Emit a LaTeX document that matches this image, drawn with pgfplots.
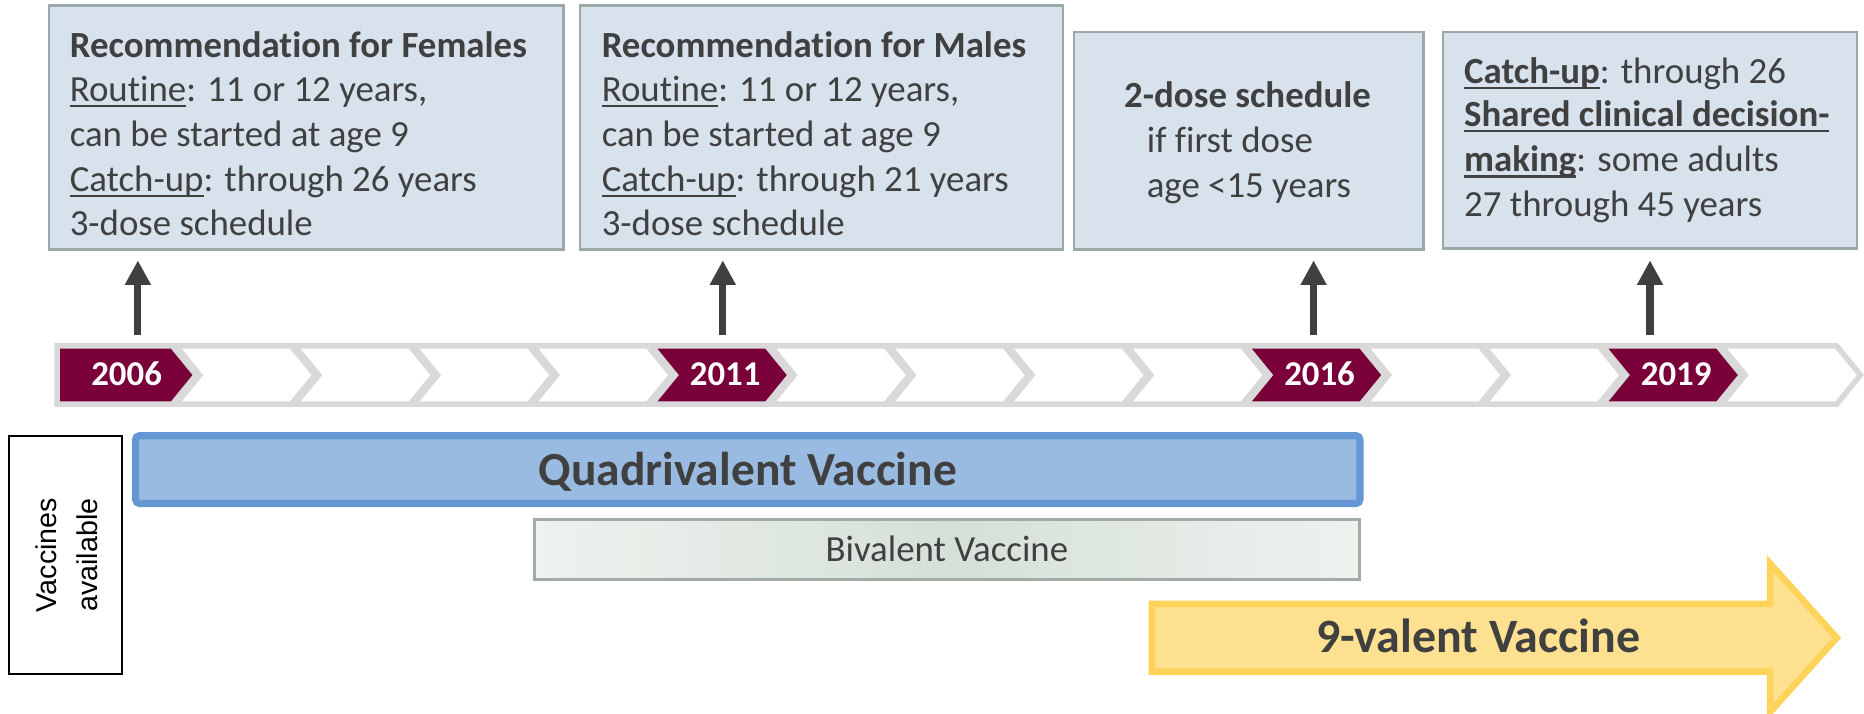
\documentclass[border=0pt]{standalone}
\usepackage{pgfplots}
\pgfplotsset{compat=1.18}
\usepackage{pgfplotstable}
\usepackage{fontspec}
\setmainfont{Carlito}[Ligatures=NoCommon]
\newfontfamily\arialf{Liberation Sans}
\usetikzlibrary{arrows.meta}
\definecolor{txt}{HTML}{404040}
\definecolor{boxfill}{HTML}{D7E2ED}
\definecolor{boxline}{HTML}{9BA9A8}
\definecolor{maroon}{HTML}{7A0039}
\definecolor{chevgray}{HTML}{D9D9D9}
\definecolor{quadfill}{HTML}{9ABBE1}
\definecolor{quadline}{HTML}{6497D3}
\definecolor{yfill}{HTML}{FDE191}
\definecolor{yline}{HTML}{FDD35A}
\definecolor{bivl}{HTML}{EFF2EF}
\definecolor{bivm}{HTML}{D5E0D8}
\definecolor{bivline}{HTML}{A3ABA5}
\newcommand\ul[1]{\leavevmode\setbox0\hbox{#1}\rlap{\rule[-1.4pt]{\wd0}{0.5pt}}\box0}
\newcommand\bodyfont{\fontsize{9.0pt}{10.9pt}\selectfont}

% chevron shapes (relative x, absolute y in picture pixels)
\pgfplotstableread{
x y
0 291
97 291
117 315.5
97 340
0 340
20 315.5
}\chev
\pgfplotstableread{
x y
0 291
97 291
117 315.5
97 340
0 340
}\firstchev

\begin{document}
\begin{tikzpicture}
\begin{axis}[width=16cm, height=6.1224cm, scale only axis, hide axis,
  xmin=0, xmax=1568, ymin=0, ymax=600, y dir=reverse, no markers, clip=true]

% recommendation boxes
\addplot[draw=boxline, fill=boxfill, line width=0.6pt] coordinates {(41,4.5) (474,4.5) (474,210) (41,210)} -- cycle;
\addplot[draw=boxline, fill=boxfill, line width=0.6pt] coordinates {(488,4.5) (894,4.5) (894,210) (488,210)} -- cycle;
\addplot[draw=boxline, fill=boxfill, line width=0.6pt] coordinates {(903.5,27) (1197.5,27) (1197.5,210) (903.5,210)} -- cycle;
\addplot[draw=boxline, fill=boxfill, line width=0.6pt] coordinates {(1214,27) (1562,27) (1562,209) (1214,209)} -- cycle;

% arrows
\addplot[txt, line width=1.75pt, -{Triangle[length=6pt,width=6pt]}] coordinates {(116,282) (116,219)};
\addplot[txt, line width=1.75pt, -{Triangle[length=6pt,width=6pt]}] coordinates {(608,282) (608,219)};
\addplot[txt, line width=1.75pt, -{Triangle[length=6pt,width=6pt]}] coordinates {(1105,282) (1105,219)};
\addplot[txt, line width=1.75pt, -{Triangle[length=6pt,width=6pt]}] coordinates {(1388,282) (1388,219)};

% timeline chevrons 2006 ... 2020
\addplot[draw=chevgray, fill=maroon, line width=1.35pt] table[x expr=\thisrow{x}+48, y=y] {\firstchev} -- cycle;
\pgfplotsinvokeforeach{1,2,3,4,6,7,8,9,11,12,14}{
  \addplot[draw=chevgray, fill=white, line width=1.35pt] table[x expr=\thisrow{x}+48+100*#1, y=y] {\chev} -- cycle;
}
\pgfplotsinvokeforeach{5,10,13}{
  \addplot[draw=chevgray, fill=maroon, line width=1.35pt] table[x expr=\thisrow{x}+48+100*#1, y=y] {\chev} -- cycle;
}

% vaccines available box
\addplot[draw=black, fill=white, line width=0.6pt] coordinates {(7.6,366.7) (102.6,366.7) (102.6,567) (7.6,567)} -- cycle;

% quadrivalent bar
\addplot[draw=quadline, fill=quadfill, line width=1.75pt, rounded corners=1pt] coordinates {(114,366.5) (1144,366.5) (1144,423.5) (114,423.5)} -- cycle;

% bivalent bar
\addplot[draw=bivline, line width=0.6pt, left color=bivl, right color=bivl, middle color=bivm] coordinates {(449.5,437) (1143.5,437) (1143.5,487.5) (449.5,487.5)} -- cycle;

% 9-valent arrow
\addplot[draw=yline, fill=yfill, line width=1.6pt] coordinates {(969,508) (1489,508) (1489,474) (1545,536.5) (1489,599) (1489,565) (969,565)} -- cycle;

% texts
\begin{scope}[every node/.style={inner sep=0pt, text=txt, font=\bodyfont}]
\node[anchor=base west] at (axis cs:58,48) {\textbf{Recommendation for Females}};
\node[anchor=base west] at (axis cs:58,85.5) {\ul{Routine}: 11 or 12 years,};
\node[anchor=base west] at (axis cs:58,123.5) {can be started at age 9};
\node[anchor=base west] at (axis cs:58,161) {\ul{Catch-up}: through 26 years};
\node[anchor=base west] at (axis cs:58,198) {3-dose schedule};

\node[anchor=base west] at (axis cs:505.5,48) {\textbf{Recommendation for Males}};
\node[anchor=base west] at (axis cs:505.5,85.5) {\ul{Routine}: 11 or 12 years,};
\node[anchor=base west] at (axis cs:505.5,123.5) {can be started at age 9};
\node[anchor=base west] at (axis cs:505.5,161) {\ul{Catch-up}: through 21 years};
\node[anchor=base west] at (axis cs:505.5,198) {3-dose schedule};

\node[anchor=base west] at (axis cs:945,90) {\textbf{2-dose schedule}};
\node[anchor=base west] at (axis cs:964,128.5) {if first dose};
\node[anchor=base west] at (axis cs:964,166) {age <15 years};

\node[anchor=base west] at (axis cs:1231,70) {\ul{\textbf{Catch-up}}: through 26};
\node[anchor=base west] at (axis cs:1231,106.5) {\ul{\textbf{Shared clinical decision-}}};
\node[anchor=base west] at (axis cs:1231,144.5) {\ul{\textbf{making}}: some adults};
\node[anchor=base west] at (axis cs:1231,182) {27 through 45 years};

\node[anchor=base, text=white, font=\fontsize{8.5pt}{10pt}\selectfont\bfseries] at (axis cs:106.5,324) {2006};
\node[anchor=base, text=white, font=\fontsize{8.5pt}{10pt}\selectfont\bfseries] at (axis cs:610,324) {2011};
\node[anchor=base, text=white, font=\fontsize{8.5pt}{10pt}\selectfont\bfseries] at (axis cs:1110,324) {2016};
\node[anchor=base, text=white, font=\fontsize{8.5pt}{10pt}\selectfont\bfseries] at (axis cs:1410,324) {2019};

\node[anchor=base, font=\fontsize{11.6pt}{13pt}\selectfont\bfseries] at (axis cs:629,408) {Quadrivalent Vaccine};
\node[anchor=base] at (axis cs:796.5,472.5) {Bivalent Vaccine};
\node[anchor=base, font=\fontsize{11.7pt}{13pt}\selectfont\bfseries] at (axis cs:1243.5,549) {9-valent Vaccine};

\node[rotate=90, align=center, text=black, font=\arialf\fontsize{7.0pt}{10.1pt}\selectfont] at (axis cs:56,467) {Vaccines\\available};
\end{scope}
\end{axis}
\pgfresetboundingbox
\useasboundingbox (current axis.south west) rectangle (current axis.north east);
\end{tikzpicture}
\end{document}
